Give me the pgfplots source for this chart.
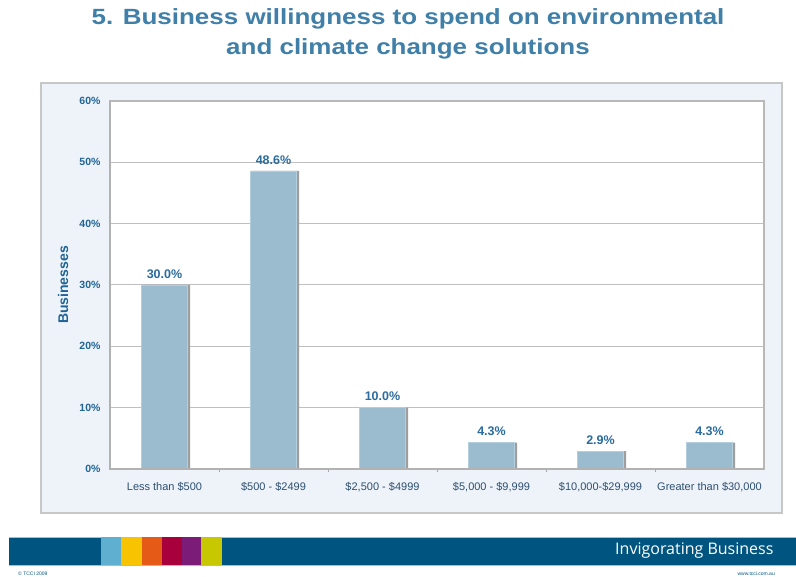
\documentclass[border=0pt]{standalone}
\usepackage{pgfplots}
\pgfplotsset{compat=1.18}
\usepackage{fontspec}
\setmainfont{Liberation Sans}
\newfontfamily\footfont{Open Sans}
\definecolor{titleblue}{HTML}{3F7FA8}
\definecolor{tickblue}{HTML}{1F6496}
\definecolor{valblue}{HTML}{2A6CA0}
\definecolor{catblue}{HTML}{2C4F70}
\definecolor{panelbg}{HTML}{EEF3F9}
\definecolor{barfill}{HTML}{9BBBCE}
\definecolor{baredge}{HTML}{B3CEDD}
\definecolor{footblue}{HTML}{005580}
\definecolor{sqA}{HTML}{5FB0D0}
\definecolor{sqB}{HTML}{F8C300}
\definecolor{sqC}{HTML}{E55A16}
\definecolor{sqD}{HTML}{A8003A}
\definecolor{sqE}{HTML}{7A1C78}
\definecolor{sqF}{HTML}{C8C800}
\begin{document}
\begin{tikzpicture}[x=1pt,y=1pt]
\useasboundingbox (0,0) rectangle (796,577);
\fill[white] (0,0) rectangle (796,577);
% title
\node[font=\bfseries\fontsize{22}{25}\selectfont, text=titleblue] at (408,558) {\scalebox{1.18}[1]{5. Business willingness to spend on environmental}};
\node[font=\bfseries\fontsize{22}{25}\selectfont, text=titleblue] at (408,528) {\scalebox{1.18}[1]{and climate change solutions}};
% panel
\draw[draw=black!22, line width=1.5pt, fill=panelbg] (41,64) rectangle (782,494);
\begin{axis}[
  at={(110pt,108pt)}, anchor=south west,
  scale only axis, width=654pt, height=368pt,
  xmin=-0.5, xmax=5.5, ymin=0, ymax=60,
  axis background/.style={fill=white},
  axis line style={draw=black!28, line width=1.3pt},
  ytick={0,10,20,30,40,50,60},
  yticklabel={\pgfmathprintnumber{\tick}\%},
  /pgf/number format/assume math mode=true,
  yticklabel style={font=\bfseries\fontsize{10.5}{12}\selectfont, text=tickblue, anchor=east, xshift=-6pt},
  xtick={0,1,2,3,4,5},
  xticklabels={{Less than \$500}, {\$500 - \$2499}, {\$2,500 - \$4999}, {\$5,000 - \$9,999}, {\$10,000-\$29,999}, {Greater than \$30,000}},
  xticklabel style={font=\fontsize{11}{13}\selectfont, text=catblue, anchor=north, yshift=-10pt},
  xtick pos=bottom, ytick pos=left,
  major tick length=0pt,
  extra x ticks={0.5,1.5,2.5,3.5,4.5},
  extra x tick labels={},
  extra x tick style={xtick pos=bottom, major tick length=3pt, tick style={draw=black!35, line width=0.8pt}},
  ymajorgrids,
  grid style={draw=black!25, line width=1pt},
  ybar,
  bar width=46pt,
  clip=false,
]
\addplot[fill=black!38, draw=none, bar shift=2.5pt] coordinates {(0,30.0) (1,48.6) (2,10.0) (3,4.3) (4,2.9) (5,4.3)};
\addplot[fill=barfill, draw=baredge, line width=0.8pt, bar shift=0pt,
  nodes near coords={\pgfmathprintnumber[fixed,fixed zerofill,precision=1]{\pgfplotspointmeta}\%},
  nodes near coords style={font=\bfseries\fontsize{12.5}{14}\selectfont, text=valblue, anchor=south, yshift=3pt}]
  coordinates {(0,30.0) (1,48.6) (2,10.0) (3,4.3) (4,2.9) (5,4.3)};
\draw[draw=black!30, line width=2.5pt] (axis cs:-0.5,60) -- (axis cs:-0.5,0) -- (axis cs:5.5,0);
\end{axis}
\node[rotate=90, font=\bfseries\fontsize{14}{16}\selectfont, text=tickblue] at (63,292) {Businesses};
% footer
\fill[footblue] (9,12) rectangle (796,40);
\draw[draw=sqA!70, line width=0.6pt] (9,40) -- (796,40);
\draw[draw=sqA!70, line width=0.6pt] (9,12) -- (796,12);
\fill[sqA] (101,12) rectangle (121,40);
\fill[sqB] (121,12) rectangle (142,40);
\fill[sqC] (142,12) rectangle (162,40);
\fill[sqD] (162,12) rectangle (182,40);
\fill[sqE] (182,12) rectangle (201,40);
\fill[sqF] (201,12) rectangle (222,40);
\node[anchor=east, text=white, font=\footfont\fontsize{16}{18}\selectfont] at (777,26) {Invigorating Business};
\node[anchor=west, text=footblue, font=\fontsize{5}{6}\selectfont, inner sep=0pt] at (18,3.5) {© TCCI 2009};
\node[anchor=east, text=footblue, font=\fontsize{5}{6}\selectfont, inner sep=0pt] at (775,3.5) {www.tcci.com.au};
\end{tikzpicture}
\end{document}
